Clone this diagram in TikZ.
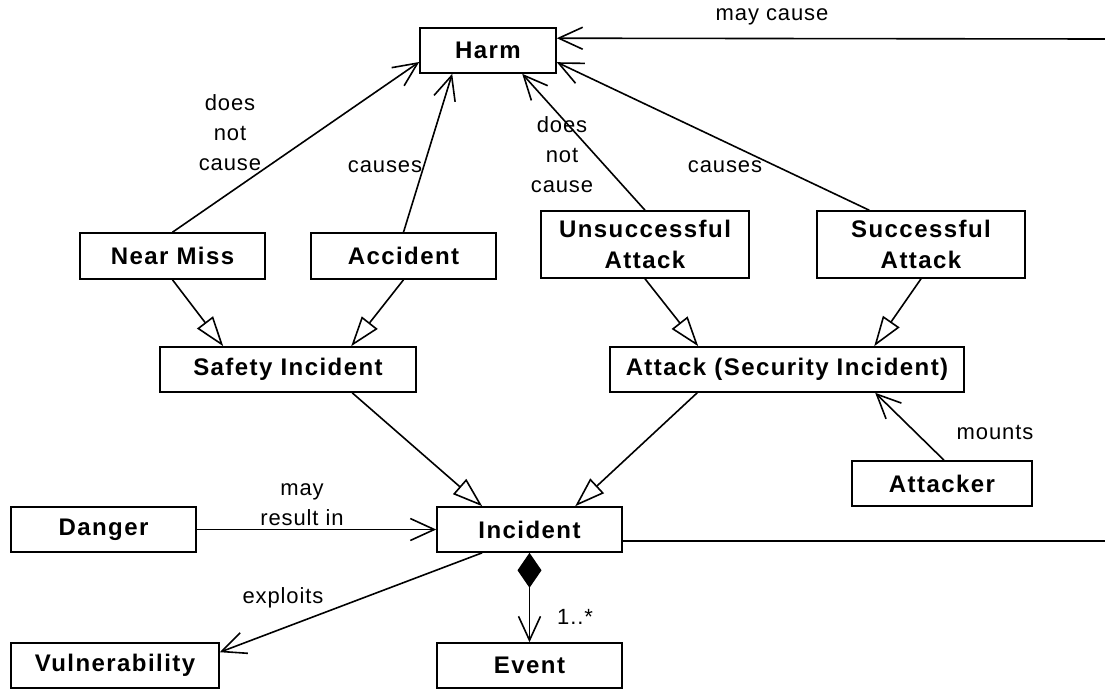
\documentclass[tikz,border=0pt]{standalone}
\usepackage{fontspec}
\setmainfont{Liberation Sans}
\newfontfamily\boxfont[LetterSpace=6]{Liberation Sans}
\newfontfamily\lblfont[LetterSpace=4]{Liberation Sans}
\usetikzlibrary{arrows.meta,calc}
\tikzset{
  cls/.style={draw, line width=1.6pt, inner sep=0pt, align=center,
    font=\boxfont\bfseries\fontsize{24}{31}\selectfont},
  lbl/.style={inner sep=0pt, align=center,
    font=\lblfont\fontsize{22}{30}\selectfont},
  assoc/.style={line width=1.6pt, -{Straight Barb[length=24pt,width=22pt]}},
  gen/.style={line width=1.6pt, -{Triangle[length=30pt,width=20pt,fill=white]}},
  line/.style={line width=1.6pt}
}
\begin{document}
\begin{tikzpicture}[x=1pt,y=-1pt]
\useasboundingbox (0,0) rectangle (1105,689);

% classes
\node[cls, minimum width=136pt, minimum height=45pt] (harm) at (488,50.5) {Harm};
\node[cls, minimum width=185pt, minimum height=46pt] (nearmiss) at (172.5,256) {Near Miss};
\node[cls, minimum width=185pt, minimum height=46pt] (accident) at (403.5,256) {Accident};
\node[cls, minimum width=256pt, minimum height=45pt] (safety) at (288,369.5) {Safety Incident};
\node[cls, minimum width=208pt, minimum height=67pt] (unsucc) at (645,244.5) {Unsuccessful\\Attack};
\node[cls, minimum width=208pt, minimum height=67pt] (succ) at (921,244.5) {Successful\\Attack};
\node[cls, minimum width=354pt, minimum height=45pt] (attack) at (787,369.5) {Attack (Security Incident)};
\node[cls, minimum width=180pt, minimum height=45pt] (attacker) at (942,483.5) {Attacker};
\node[cls, minimum width=185pt, minimum height=45pt] (danger) at (103.5,529.5) {Danger};
\node[cls, minimum width=185pt, minimum height=45pt] (incident) at (529.5,529.5) {Incident};
\node[cls, minimum width=208pt, minimum height=45pt] (vuln) at (115,665.5) {Vulnerability};
\node[cls, minimum width=185pt, minimum height=45pt] (event) at (529.5,665.5) {Event};

% associations leaving the drawing on the right
\coordinate (harmR) at (1105,39);
\coordinate (incR) at (1105,541);
\draw[assoc] (harmR) -- ($(harm.north east)+(0,11)$);
\draw[line] ($(incident.east)+(0,11.5)$) -- (incR);

% associations towards Harm
\draw[assoc] (nearmiss.north) -- ($(harm.west)+(0,11.5)$);
\draw[assoc] (accident.north) -- ($(harm.south west)+(33,0)$);
\draw[assoc] (unsucc.north) -- ($(harm.south west)+(103,0)$);
\draw[assoc] ($(succ.north west)+(53,0)$) -- ($(harm.north east)+(0,35)$);

% generalisations
\draw[gen] (nearmiss.south) -- ($(safety.north west)+(64,0)$);
\draw[gen] (accident.south) -- ($(safety.north west)+(192,0)$);
\draw[gen] (unsucc.south) -- ($(attack.north west)+(89,0)$);
\draw[gen] (succ.south) -- ($(attack.north west)+(265,0)$);
\draw[gen] ($(safety.south west)+(193,0)$) -- ($(incident.north west)+(46,0)$);
\draw[gen] ($(attack.south west)+(88,0)$) -- ($(incident.north west)+(139,0)$);

% other associations
\draw[assoc] ($(attacker.north)+(2,0)$) -- ($(attack.south west)+(266,0)$);
\draw[assoc] (danger.east) -- (incident.west);
\draw[assoc] ($(incident.south west)+(46,0)$) -- ($(vuln.north east)+(0,10)$);
\draw[line, {Diamond[length=35pt,width=24pt]}-{Straight Barb[length=24pt,width=22pt]}]
  (incident.south) -- (event.north);

% association labels
\node[lbl] (l1) at (772,17) {may cause};
\node[lbl] (l2) at (230,133) {does\\not\\cause};
\node[lbl] (l3) at (385,167) {causes};
\node[lbl] (l4) at (562,155) {does\\not\\cause};
\node[lbl] (l5) at (725,167) {causes};
\node[lbl] (l6) at (995,432) {mounts};
\node[lbl] (l7) at (302,505) {may\\result in};
\node[lbl] (l8) at (283,598) {exploits};
\node[lbl] (l9) at (575,617) {1..*};
\end{tikzpicture}
\end{document}
